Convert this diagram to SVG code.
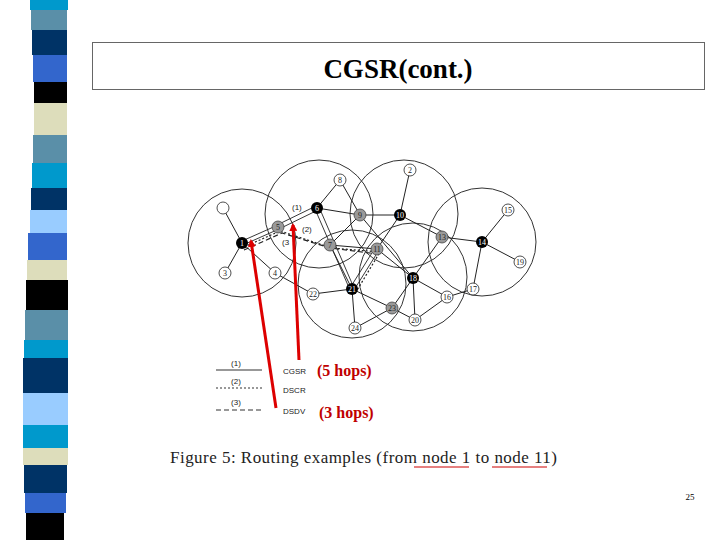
<svg xmlns="http://www.w3.org/2000/svg" width="720" height="540" viewBox="0 0 720 540">
<style>
.r{fill:none;stroke:#333;stroke-width:1}
.e{stroke:#222;stroke-width:1}
.n text{font-family:"Liberation Serif",serif;font-size:8px;text-anchor:middle;fill:#222}
.w{fill:#fff;stroke:#222;stroke-width:0.8}
.g{fill:#999;stroke:#444;stroke-width:0.8}
.b{fill:#000}
.lg{font-family:"Liberation Sans",sans-serif;font-size:8px;fill:#222}
.red{font-family:"Liberation Serif",serif;font-size:16px;font-weight:bold;fill:#c00000}
.ser{font-family:"Liberation Serif",serif}
</style>
<defs><marker id="ah" markerWidth="8" markerHeight="8" refX="6" refY="4" orient="auto" markerUnits="userSpaceOnUse"><path d="M0,0 L8,4 L0,8 z" fill="#d00"/></marker></defs>
<rect width="720" height="540" fill="#fff"/>
<g id="strip">
<rect x="30" y="0" width="38" height="10" fill="#0099cc"/>
<rect x="31" y="10" width="36" height="20" fill="#5a8fa8"/>
<rect x="32" y="30" width="35" height="25" fill="#003366"/>
<rect x="33" y="55" width="34" height="27" fill="#3366cc"/>
<rect x="34" y="82" width="33" height="21" fill="#000"/>
<rect x="34" y="103" width="33" height="32" fill="#ddddbb"/>
<rect x="33" y="135" width="34" height="28" fill="#5a8fa8"/>
<rect x="32" y="163" width="35" height="25" fill="#0099cc"/>
<rect x="31" y="188" width="36" height="22" fill="#003366"/>
<rect x="30" y="210" width="37" height="23" fill="#99ccff"/>
<rect x="28" y="233" width="39" height="27" fill="#3366cc"/>
<rect x="27" y="260" width="40" height="20" fill="#ddddbb"/>
<rect x="26" y="280" width="42" height="30" fill="#000"/>
<rect x="25" y="310" width="43" height="30" fill="#5a8fa8"/>
<rect x="24" y="340" width="44" height="18" fill="#0099cc"/>
<rect x="23" y="358" width="45" height="35" fill="#003366"/>
<rect x="23" y="393" width="45" height="32" fill="#99ccff"/>
<rect x="23" y="425" width="45" height="23" fill="#0099cc"/>
<rect x="23" y="448" width="45" height="17" fill="#ddddbb"/>
<rect x="24" y="465" width="43" height="28" fill="#003366"/>
<rect x="25" y="493" width="41" height="20" fill="#3366cc"/>
<rect x="26" y="513" width="38" height="27" fill="#000"/>
</g>
<g id="title">
<rect x="92.5" y="42.5" width="612" height="47" fill="#fff" stroke="#666"/>
<text class="ser" x="398" y="78" font-size="27" font-weight="bold" text-anchor="middle">CGSR(cont.)</text>
</g>
<g id="clusters">
<circle class="r" cx="242" cy="243" r="54"/>
<circle class="r" cx="319" cy="214" r="54"/>
<circle class="r" cx="404" cy="214" r="54"/>
<circle class="r" cx="482" cy="242" r="54"/>
<circle class="r" cx="352" cy="284" r="54"/>
<circle class="r" cx="413" cy="277" r="54"/>
</g>
<g id="connectors">
<line class="e" x1="242" y1="243" x2="223" y2="208"/>
<line class="e" x1="242" y1="243" x2="225" y2="273"/>
<line class="e" x1="242" y1="243" x2="275" y2="273"/>
<line class="e" x1="275" y1="273" x2="313" y2="294"/>
<line class="e" x1="313" y1="294" x2="352" y2="289"/>
<line class="e" x1="317" y1="208" x2="340" y2="180"/>
<line class="e" x1="340" y1="180" x2="360" y2="215"/>
<line class="e" x1="317" y1="208" x2="360" y2="215"/>
<line class="e" x1="360" y1="215" x2="400" y2="215"/>
<line class="e" x1="360" y1="215" x2="330" y2="245"/>
<line class="e" x1="360" y1="215" x2="413" y2="278"/>
<line class="e" x1="400" y1="215" x2="410" y2="170"/>
<line class="e" x1="400" y1="215" x2="442" y2="237"/>
<line class="e" x1="400" y1="215" x2="377" y2="249"/>
<line class="e" x1="442" y1="237" x2="482" y2="242"/>
<line class="e" x1="442" y1="237" x2="413" y2="278"/>
<line class="e" x1="482" y1="242" x2="508" y2="210"/>
<line class="e" x1="482" y1="242" x2="520" y2="262"/>
<line class="e" x1="482" y1="242" x2="473" y2="289"/>
<line class="e" x1="473" y1="289" x2="447" y2="297"/>
<line class="e" x1="447" y1="297" x2="413" y2="278"/>
<line class="e" x1="447" y1="297" x2="415" y2="320"/>
<line class="e" x1="413" y1="278" x2="415" y2="320"/>
<line class="e" x1="413" y1="278" x2="392" y2="308"/>
<line class="e" x1="352" y1="289" x2="392" y2="308"/>
<line class="e" x1="392" y1="308" x2="415" y2="320"/>
<line class="e" x1="352" y1="289" x2="355" y2="328"/>
<line class="e" x1="392" y1="308" x2="355" y2="328"/>
<line class="e" x1="330" y1="245" x2="352" y2="289"/>
<line class="e" x1="330" y1="245" x2="377" y2="249"/>
<line class="e" x1="377" y1="249" x2="413" y2="278"/>
<g stroke="#222" stroke-width="0.9">
<line x1="242" y1="241" x2="278" y2="225"/><line x1="243" y1="245" x2="279" y2="229"/>
<line x1="277" y1="225" x2="316" y2="206"/><line x1="279" y1="229" x2="318" y2="210"/>
<line x1="315" y1="209" x2="350" y2="290"/><line x1="319" y1="207" x2="354" y2="288"/>
<line x1="350" y1="288" x2="375" y2="248"/><line x1="354" y1="290" x2="379" y2="250"/>
</g>
<g fill="none" stroke="#222" stroke-width="1.2" stroke-dasharray="2,2">
<polyline points="244,247 280,231 332,248 380,252 356,292"/>
</g>
<g fill="none" stroke="#222" stroke-width="1.2" stroke-dasharray="5,3">
<polyline points="244,250 282,233 330,248 378,254"/>
</g>
</g>
<g class="n">
<g id="node-x"><circle class="w" cx="223" cy="208" r="6"/></g>
<g id="node-1"><circle class="b" cx="242" cy="243" r="6"/><text x="242" y="246" style="fill:#fff">1</text></g>
<g id="node-5"><circle class="g" cx="278" cy="227" r="6"/><text x="278" y="230">5</text></g>
<g id="node-6"><circle class="b" cx="317" cy="208" r="6"/><text x="317" y="211" style="fill:#fff">6</text></g>
<g id="node-8"><circle class="w" cx="340" cy="180" r="6"/><text x="340" y="183">8</text></g>
<g id="node-9"><circle class="g" cx="360" cy="215" r="6"/><text x="360" y="218">9</text></g>
<g id="node-10"><circle class="b" cx="400" cy="215" r="6"/><text x="400" y="218" style="fill:#fff">10</text></g>
<g id="node-2"><circle class="w" cx="410" cy="170" r="6"/><text x="410" y="173">2</text></g>
<g id="node-7"><circle class="g" cx="330" cy="245" r="6"/><text x="330" y="248">7</text></g>
<g id="node-11"><circle class="g" cx="377" cy="249" r="6"/><text x="377" y="252">11</text></g>
<g id="node-13"><circle class="g" cx="442" cy="237" r="6"/><text x="442" y="240">13</text></g>
<g id="node-14"><circle class="b" cx="482" cy="242" r="6"/><text x="482" y="245" style="fill:#fff">14</text></g>
<g id="node-15"><circle class="w" cx="508" cy="210" r="6"/><text x="508" y="213">15</text></g>
<g id="node-19"><circle class="w" cx="520" cy="262" r="6"/><text x="520" y="265">19</text></g>
<g id="node-3"><circle class="w" cx="225" cy="273" r="6"/><text x="225" y="276">3</text></g>
<g id="node-4"><circle class="w" cx="275" cy="273" r="6"/><text x="275" y="276">4</text></g>
<g id="node-22"><circle class="w" cx="313" cy="294" r="6"/><text x="313" y="297">22</text></g>
<g id="node-21"><circle class="b" cx="352" cy="289" r="6"/><text x="352" y="292" style="fill:#fff">21</text></g>
<g id="node-18"><circle class="b" cx="413" cy="278" r="6"/><text x="413" y="281" style="fill:#fff">18</text></g>
<g id="node-17"><circle class="w" cx="473" cy="289" r="6"/><text x="473" y="292">17</text></g>
<g id="node-16"><circle class="w" cx="447" cy="297" r="6"/><text x="447" y="300">16</text></g>
<g id="node-23"><circle class="g" cx="392" cy="308" r="6"/><text x="392" y="311">23</text></g>
<g id="node-20"><circle class="w" cx="415" cy="320" r="6"/><text x="415" y="323">20</text></g>
<g id="node-24"><circle class="w" cx="355" cy="328" r="6"/><text x="355" y="331">24</text></g>
</g>
<g id="pathlabels" class="lg">
<text x="292" y="210">(1)</text><text x="302" y="232">(2)</text><text x="282" y="245">(3</text>
</g>
<g id="legend">
<line x1="216" y1="370" x2="262" y2="370" stroke="#333" stroke-width="1.2"/>
<line x1="216" y1="388" x2="262" y2="388" stroke="#333" stroke-width="1.2" stroke-dasharray="2,2"/>
<line x1="216" y1="410" x2="262" y2="410" stroke="#333" stroke-width="1.2" stroke-dasharray="5,3"/>
<text class="lg" x="236" y="366" text-anchor="middle">(1)</text>
<text class="lg" x="236" y="384" text-anchor="middle">(2)</text>
<text class="lg" x="236" y="405" text-anchor="middle">(3)</text>
<text class="lg" x="283" y="374">CGSR</text>
<text class="lg" x="283" y="393">DSCR</text>
<text class="lg" x="283" y="414">DSDV</text>
<text class="red" x="317" y="376">(5 hops)</text>
<text class="red" x="319" y="418">(3 hops)</text>
</g>
<g id="arrows" stroke="#d00" stroke-width="3" fill="none">
<line x1="276" y1="408" x2="251" y2="241" marker-end="url(#ah)"/>
<line x1="299" y1="360" x2="293" y2="225" marker-end="url(#ah)"/>
</g>
<text class="ser" x="170" y="463" font-size="17" textLength="387" fill="#222">Figure 5: Routing examples (from node 1 to node 11)</text>
<line x1="414" y1="467" x2="469" y2="467" stroke="#c00" stroke-width="1"/>
<line x1="492" y1="467" x2="547" y2="467" stroke="#c00" stroke-width="1"/>
<text class="ser" x="690" y="500" font-size="9" text-anchor="middle">25</text>
</svg>
